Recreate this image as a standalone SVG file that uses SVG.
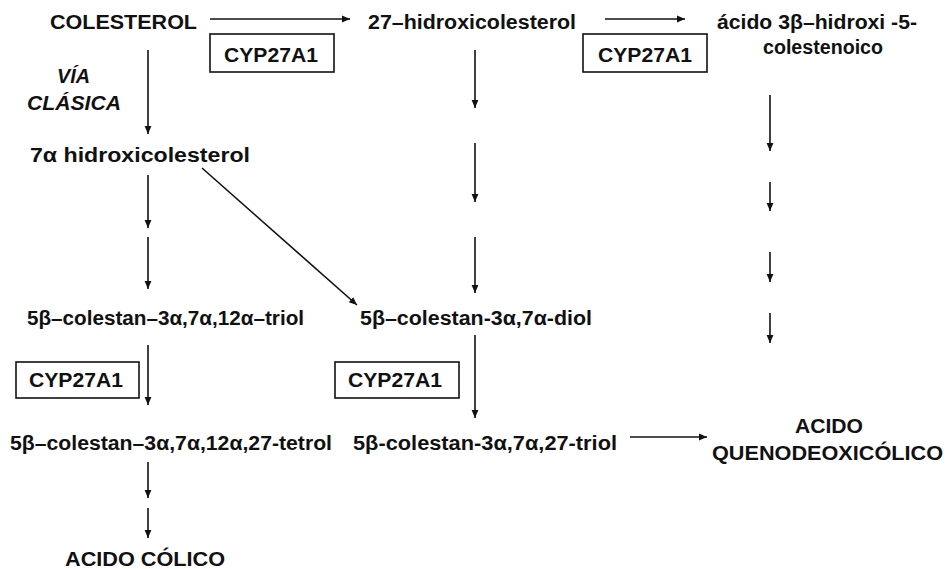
<svg xmlns="http://www.w3.org/2000/svg" width="947" height="569" viewBox="0 0 947 569">
<style>
text{font-family:"Liberation Sans",Arial,sans-serif;font-weight:bold;font-size:20px;fill:#111}
.it{font-style:italic}
.box{fill:none;stroke:#111;stroke-width:1.6}
.c line{stroke:#111;stroke-width:1.6;marker-end:url(#ah)}
</style>
<defs>
<marker id="ah" markerUnits="userSpaceOnUse" markerWidth="10" markerHeight="10" refX="8" refY="4" orient="auto">
<path d="M0,0.6 L8,4 L0,7.4 Z" fill="#111"/>
</marker>
</defs>
<g id="colesterol"><text x="50" y="29" textLength="147" lengthAdjust="spacingAndGlyphs">COLESTEROL</text></g>
<g id="hidroxi27"><text x="368" y="29" textLength="208" lengthAdjust="spacingAndGlyphs">27–hidroxicolesterol</text></g>
<g id="acido3b"><text x="717" y="29" textLength="200" lengthAdjust="spacingAndGlyphs">ácido 3β–hidroxi -5-</text><text x="763" y="54" textLength="120" lengthAdjust="spacingAndGlyphs">colestenoico</text></g>
<g id="via"><text class="it" x="57" y="83" textLength="33" lengthAdjust="spacingAndGlyphs">VÍA</text><text class="it" x="27" y="110" textLength="94" lengthAdjust="spacingAndGlyphs">CLÁSICA</text></g>
<g id="hidroxi7"><text x="30" y="162" textLength="220" lengthAdjust="spacingAndGlyphs">7α hidroxicolesterol</text></g>
<g id="triol12"><text x="27" y="325" textLength="277" lengthAdjust="spacingAndGlyphs">5β–colestan–3α,7α,12α–triol</text></g>
<g id="diol"><text x="360" y="325" textLength="232" lengthAdjust="spacingAndGlyphs">5β–colestan-3α,7α-diol</text></g>
<g id="tetrol"><text x="10" y="450" textLength="322" lengthAdjust="spacingAndGlyphs">5β–colestan–3α,7α,12α,27-tetrol</text></g>
<g id="triol27"><text x="353" y="450" textLength="264" lengthAdjust="spacingAndGlyphs">5β-colestan-3α,7α,27-triol</text></g>
<g id="queno"><text x="795" y="433" textLength="68" lengthAdjust="spacingAndGlyphs">ACIDO</text><text x="712" y="460" textLength="231" lengthAdjust="spacingAndGlyphs">QUENODEOXICÓLICO</text></g>
<g id="colico"><text x="65" y="566" textLength="160" lengthAdjust="spacingAndGlyphs">ACIDO CÓLICO</text></g>
<g id="cyp1"><rect class="box" x="210" y="34" width="124" height="38"/><text x="224" y="62" textLength="94" lengthAdjust="spacingAndGlyphs">CYP27A1</text></g>
<g id="cyp2"><rect class="box" x="583" y="34" width="124" height="38"/><text x="598" y="62" textLength="94" lengthAdjust="spacingAndGlyphs">CYP27A1</text></g>
<g id="cyp3"><rect class="box" x="16" y="362" width="123" height="36"/><text x="29" y="387" textLength="94" lengthAdjust="spacingAndGlyphs">CYP27A1</text></g>
<g id="cyp4"><rect class="box" x="335" y="362" width="124" height="36"/><text x="348" y="387" textLength="94" lengthAdjust="spacingAndGlyphs">CYP27A1</text></g>
<g id="connectors" class="c">
<line x1="210" y1="19" x2="350" y2="19"/>
<line x1="605" y1="19" x2="685" y2="19"/>
<line x1="630" y1="437" x2="707" y2="437"/>
<line x1="148" y1="50" x2="148" y2="134"/>
<line x1="148" y1="175" x2="148" y2="228"/>
<line x1="148" y1="237" x2="148" y2="289"/>
<line x1="148" y1="345" x2="148" y2="405"/>
<line x1="148" y1="462" x2="148" y2="498"/>
<line x1="148" y1="508" x2="148" y2="538"/>
<line x1="202" y1="168" x2="357" y2="305"/>
<line x1="475" y1="50" x2="475" y2="108"/>
<line x1="475" y1="143" x2="475" y2="202"/>
<line x1="475" y1="237" x2="475" y2="293"/>
<line x1="475" y1="335" x2="475" y2="418"/>
<line x1="770" y1="95" x2="770" y2="151"/>
<line x1="770" y1="182" x2="770" y2="211"/>
<line x1="770" y1="252" x2="770" y2="282"/>
<line x1="770" y1="313" x2="770" y2="343"/>
</g>
</svg>
